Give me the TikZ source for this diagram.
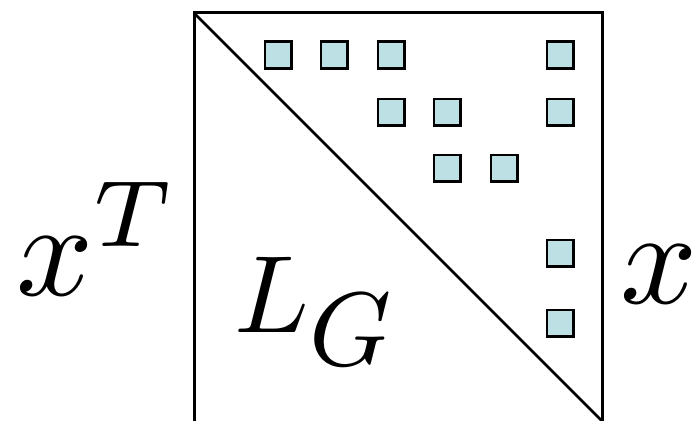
\documentclass[tikz,border=0pt]{standalone}
\usepackage{graphicx}
\usetikzlibrary{positioning}
\definecolor{entryfill}{RGB}{188,224,227}
\tikzset{
  matrix-frame/.style={draw=black, line width=3pt},
  entry-node/.style={draw=black, line width=2.5pt, fill=entryfill,
    minimum size=26.5pt, inner sep=0pt},
  math-label/.style={inner sep=0pt, anchor=base west}
}
\begin{document}
\begin{tikzpicture}[x=1pt, y=-1pt]
\useasboundingbox (0,0) rectangle (698,420);
\clip (0,0) rectangle (698,420);

% the matrix outline, cut by its diagonal
\coordinate (tl) at (194,13);
\coordinate (br) at (602,421);
\draw[matrix-frame] (tl) rectangle (602,424);
\draw[matrix-frame, line width=2.5pt] (tl) -- (br);

% nonzero entries above the diagonal
\foreach \cx/\cy [count=\i] in {278/55, 334/55, 391/55, 560/55,
    391/112, 447/112, 560/112, 447/168, 504/168, 560/253, 560/323}
  \node[entry-node] (e\i) at (\cx,\cy) {};

% labels
\node[math-label, scale=13.5] (xt) at (14,295) {$x^T$};
\node[math-label, scale=11] (lg) at (232,332) {$L_{\scalebox{0.95}{$G$}}$};
\node[math-label, scale=13.5] (xr) at (618,303) {$x$};
\end{tikzpicture}
\end{document}
